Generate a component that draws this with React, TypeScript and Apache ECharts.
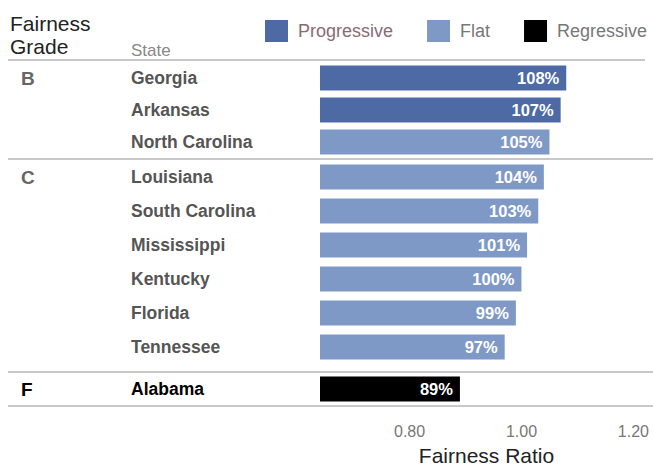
import React, { useEffect, useRef } from "react";
import * as echarts from "echarts";

const states = ["Georgia", "Arkansas", "North Carolina", "Louisiana", "South Carolina", "Mississippi", "Kentucky", "Florida", "Tennessee", "Alabama"];
const grades = ["B", "B", "B", "C", "C", "C", "C", "C", "C", "F"];
const ratios = [1.08, 1.07, 1.05, 1.04, 1.03, 1.01, 1.0, 0.99, 0.97, 0.89];
const types = ["Progressive", "Progressive", "Flat", "Flat", "Flat", "Flat", "Flat", "Flat", "Flat", "Regressive"];
const typeNames = ["Progressive", "Flat", "Regressive"];
const gradeGroups = ["B", "C", "F"];
const xTicks = [0.8, 1.0, 1.2];

const FONT = "Liberation Sans, Arial, sans-serif";
const typeColors: Record<string, string> = { Progressive: "#4d6aa5", Flat: "#7f99c7", Regressive: "#000000" };
const gridBoxes = [
  { top: 62, height: 96 },
  { top: 160, height: 204 },
  { top: 373, height: 32 },
];
const X_MIN = 0.64;
const X_MAX = 1.235;

export default function App() {
  const ref = useRef<HTMLDivElement>(null);
  useEffect(() => {
    const chart = echarts.init(ref.current!, null, { renderer: "svg" });
    const grid: any[] = [];
    const xAxis: any[] = [];
    const yAxis: any[] = [];
    const series: any[] = [];
    gradeGroups.forEach((g, gi) => {
      const idx = grades.map((gr, i) => (gr === g ? i : -1)).filter((i) => i >= 0);
      const cats = idx.map((i) => states[i]);
      const isF = g === "F";
      grid.push({ left: 320, right: 0, top: gridBoxes[gi].top, height: gridBoxes[gi].height, outerBoundsMode: "none", containLabel: false });
      xAxis.push({
        gridIndex: gi,
        type: "value",
        min: X_MIN,
        max: X_MAX,
        splitLine: { show: false },
        axisLine: { show: false },
        axisTick: { show: false },
        axisLabel: {
          show: isF,
          customValues: xTicks,
          formatter: (v: number) => v.toFixed(2),
          margin: 18,
          fontSize: 16,
          color: "#777",
          fontFamily: FONT,
        },
        name: isF ? "Fairness Ratio" : "",
        nameLocation: "middle",
        nameGap: 40,
        nameTextStyle: { fontSize: 21, color: "#222", fontFamily: FONT },
      });
      yAxis.push({
        gridIndex: gi,
        type: "category",
        position: "left",
        inverse: true,
        data: cats,
        axisLine: { show: false },
        axisTick: { show: false },
        axisLabel: {
          align: "left",
          margin: 189,
          fontSize: 17.5,
          fontWeight: "bold",
          color: isF ? "#000" : "#555",
          fontFamily: FONT,
        },
      });
      yAxis.push({
        gridIndex: gi,
        type: "category",
        position: "left",
        offset: 0,
        inverse: true,
        data: idx.map((i) => grades[i]),
        axisLine: { show: false },
        axisTick: { show: false },
        axisLabel: {
          align: "left",
          margin: 299,
          fontSize: 19,
          fontWeight: "bold",
          color: isF ? "#000" : "#666",
          fontFamily: FONT,
          formatter: (v: string, i: number) => (i === 0 ? v : ""),
        },
      });
      const typesHere = typeNames.filter((t) => idx.some((i) => types[i] === t));
      typesHere.forEach((t) => {
        series.push({
          name: t,
          type: "bar",
          xAxisIndex: gi,
          yAxisIndex: gi * 2,
          barWidth: 25,
          barGap: "-100%",
          itemStyle: { color: typeColors[t] },
          label: {
            show: true,
            position: "insideRight",
            distance: 7,
            color: "#fff",
            fontWeight: "bold",
            fontSize: 16.5,
            fontFamily: FONT,
            formatter: (p: any) => Math.round(p.value * 100) + "%",
          },
          data: idx.map((i) => (types[i] === t ? ratios[i] : null)),
        });
      });
    });

    const sepLine = (y: number, x1: number, x2: number) => ({
      type: "line",
      shape: { x1, y1: y, x2, y2: y },
      style: { stroke: "#c8c8c8", lineWidth: 2 },
    });

    chart.setOption({
      animation: false,
      backgroundColor: "#ffffff",
      legend: {
        data: typeNames,
        left: 265,
        top: 20,
        padding: 0,
        itemWidth: 23,
        itemHeight: 22,
        itemGap: 34,
        icon: "rect",
        textStyle: {
          fontSize: 18,
          color: "#777",
          fontFamily: FONT,
          padding: [0, 0, 0, 5],
          rich: {
            p: { color: "#8a6a74", fontSize: 18, fontFamily: FONT },
            f: { color: "#777", fontSize: 18, fontFamily: FONT, padding: [0, 6, 0, 0] },
          },
        },
        formatter: (n: string) => (n === "Progressive" ? "{p|" + n + "}" : n === "Flat" ? "{f|" + n + "}" : n),
        selectedMode: false,
      },
      grid,
      xAxis,
      yAxis,
      series,
      graphic: [
        { type: "text", left: 10, top: 12, style: { text: "Fairness\nGrade", fontSize: 21, lineHeight: 23, fill: "#222", fontFamily: FONT } },
        { type: "text", left: 131, top: 42, style: { text: "State", fontSize: 17, fill: "#888", fontFamily: FONT } },
        sepLine(60, 8, 645),
        sepLine(159, 8, 653),
        sepLine(372, 8, 653),
        sepLine(406, 8, 653),
      ],
    });
    return () => chart.dispose();
  }, []);
  return <div ref={ref} style={{ position: "absolute", left: 0, top: 0, width: 653, height: 468 }} />;
}
